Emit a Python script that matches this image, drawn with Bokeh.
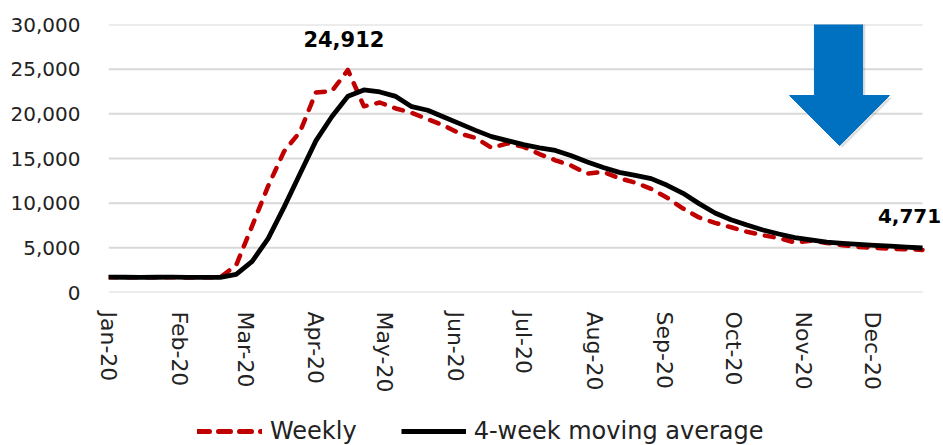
import pandas as pd
from bokeh.plotting import figure
from bokeh.layouts import column
from bokeh.models import (Range1d, FixedTicker, DatetimeTickFormatter, NumeralTickFormatter,
                          Label, Legend, LegendItem, PolyAnnotation)
from bokeh.embed import file_html
from bokeh.resources import INLINE

# ---- data (thousands) ----
dates = pd.date_range("2020-01-25", periods=52, freq="7D")
weekly = [1700, 1710, 1690, 1720, 1700, 1690, 1700, 1702,
          3060, 7450, 11900, 15800, 18000, 22400, 22550, 24912,
          20840, 21270, 20600, 20100, 19400, 18700, 17800, 17300,
          16200, 16700, 16300, 15500, 14800, 14200, 13300, 13500,
          12800, 12300, 11600, 10600, 9400, 8400, 7800, 7300,
          6800, 6400, 6100, 5600, 5800, 5550, 5300, 5100,
          5000, 4900, 4850, 4771]
moving_avg = [1710, 1705, 1700, 1705, 1710, 1700, 1700, 1700,
              2040, 3480, 6030, 9560, 13300, 17000, 19700, 21960,
              22670, 22450, 21950, 20800, 20400, 19650, 18900, 18150,
              17450, 17000, 16550, 16200, 15900, 15300, 14600, 14000,
              13450, 13100, 12750, 12000, 11100, 9950, 8900, 8150,
              7550, 7000, 6550, 6150, 5880, 5650, 5500, 5380,
              5280, 5180, 5080, 4980]
tick_months = pd.date_range("2020-01-25", "2020-12-25", freq=pd.DateOffset(months=1))
y_ticks = [0, 5000, 10000, 15000, 20000, 25000, 30000]
series_names = ["Weekly", "4-week moving average"]

FONT = "DejaVu Sans"
RED = "#C00000"
DASH = "9 10"

def ms(t):
    return pd.Timestamp(t).timestamp() * 1000.0

# frame runs a little past the last week so the end label is not clipped
x_end = ms(dates[-1] + pd.Timedelta(days=9.2))

p = figure(width=943, height=410, output_backend="svg", toolbar_location=None,
           x_axis_type="datetime",
           x_range=Range1d(ms(dates[0]), x_end),
           y_range=Range1d(0, 30000),
           min_border_left=108, min_border_right=0, min_border_top=24, min_border_bottom=118)
p.outline_line_color = None
p.background_fill_color = "white"

# horizontal gridlines spanning the data period
p.segment(x0=[dates[0]] * len(y_ticks), y0=y_ticks, x1=[dates[-1]] * len(y_ticks), y1=y_ticks,
          line_color="#D9D9D9", line_width=2)

p.line(dates, weekly, line_color=RED, line_width=4.5, line_dash=DASH,
       line_cap="round", line_join="round")
p.line(dates, moving_avg, line_color="black", line_width=4.8, line_join="round")

# axes
p.xaxis.ticker = FixedTicker(ticks=[ms(t) for t in tick_months])
p.xaxis.formatter = DatetimeTickFormatter(days="%b-%y", months="%b-%y", years="%b-%y")
p.xaxis.major_label_orientation = "vertical"
p.yaxis.ticker = FixedTicker(ticks=y_ticks)
p.yaxis.formatter = NumeralTickFormatter(format="0,0")
for ax in (p.xaxis, p.yaxis):
    ax.axis_line_color = None
    ax.major_tick_line_color = None
    ax.minor_tick_line_color = None
    ax.major_label_text_font = FONT
    ax.major_label_text_color = "#222222"
p.yaxis.major_label_text_font_size = "20px"
p.xaxis.major_label_text_font_size = "22px"
p.yaxis.major_label_standoff = 22
p.xaxis.major_label_standoff = 13

p.xgrid.grid_line_color = None
p.ygrid.grid_line_color = None

# data labels
p.add_layout(Label(x=ms(dates[15]), y=weekly[15], text=f"{weekly[15]:,}", x_offset=-4, y_offset=31,
                   text_align="center", text_baseline="alphabetic", text_font=FONT,
                   text_font_style="bold", text_font_size="21px", text_color="black"))
p.add_layout(Label(x=ms(dates[-1]), y=weekly[-1], text=f"{weekly[-1]:,}", x_offset=-13, y_offset=34,
                   text_align="center", text_baseline="alphabetic", text_font=FONT,
                   text_font_style="bold", text_font_size="20px", text_color="black"))

# blue down arrow (decoration) with a soft shadow
base = dates[0]
def d(days):
    return ms(base + pd.Timedelta(days=days))
arrow_days = [309.6, 330.7, 330.7, 342.5, 320.6, 298.7, 309.6]
arrow_y = [30300, 30300, 22050, 22050, 16450, 22050, 22050]
p.add_layout(PolyAnnotation(xs=[d(v + 1.2) for v in arrow_days], ys=[v - 250 for v in arrow_y],
                            fill_color="#808080", fill_alpha=0.25, line_alpha=0))
p.add_layout(PolyAnnotation(xs=[d(v) for v in arrow_days], ys=arrow_y, fill_color="#0070C0",
                            fill_alpha=1.0, line_color="#0070C0", line_alpha=1.0, line_width=1))

# legend strip below the chart (its frame is aligned with the chart frame)
lg = figure(width=943, height=35, output_backend="svg", toolbar_location=None,
            x_range=Range1d(0, 1), y_range=Range1d(0, 1),
            min_border_left=0, min_border_right=0, min_border_top=0, min_border_bottom=0)
lg.axis.visible = False
lg.grid.visible = False
lg.outline_line_color = None
lr_week = lg.line(x=[-2, -1], y=[-2, -2], line_color=RED, line_width=5, line_dash="12 9",
                  line_cap="round")
lr_ma = lg.line(x=[-2, -1], y=[-2, -2], line_color="black", line_width=5)
legend = Legend(items=[LegendItem(label=series_names[0], renderers=[lr_week]),
                       LegendItem(label=series_names[1], renderers=[lr_ma])],
                orientation="horizontal", location=(89, 0),
                glyph_width=65, glyph_height=24, label_height=24, label_standoff=8, spacing=44,
                padding=0, margin=0, border_line_alpha=0, background_fill_alpha=0,
                label_text_font=FONT, label_text_font_size="24px", label_text_color="#222222")
lg.add_layout(legend)

layout = column(p, lg, spacing=0)
open("out.html", "w").write(file_html(layout, INLINE))
